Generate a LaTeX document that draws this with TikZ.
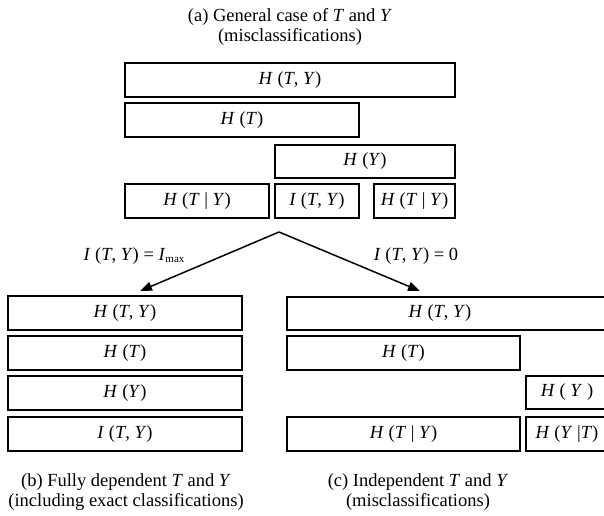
\documentclass[tikz,border=0pt]{standalone}
\usepackage{fontspec}
\setmainfont{Liberation Serif}
\usetikzlibrary{arrows.meta}
\newcommand\mi[1]{\textit{#1}}
\newcommand\bx[6]{\node[box, minimum width={#4-#2}, minimum height={#5-#3}] (#1) at ({(#2+#4)/2},{(#3+#5)/2}) {#6};}
\begin{document}
\begin{tikzpicture}[x=1pt,y=-1pt,
  box/.style={draw, line width=1.5pt, inner sep=0pt, font=\fontsize{18.5}{20}\selectfont},
  txt/.style={align=center, inner sep=0pt, font=\fontsize{18.5}{20}\selectfont},
  arr/.style={line width=1.5pt, -{Triangle[length=12pt,width=9pt]}}]
\useasboundingbox (0,0) rectangle (604,515);
\clip (0,0) rectangle (604,515);
% (a)
\node[txt] (ta) at (290,27) {(a) General case of \mi{T} and \mi{Y}\\(misclassifications)};
\bx{aTY}{125}{63}{455}{97}{\mi{H} (\mi{T}, \mi{Y})}
\bx{aT}{125}{103}{359}{137}{\mi{H} (\mi{T})}
\bx{aY}{275}{145}{455}{178}{\mi{H} (\mi{Y})}
\bx{aTgY}{125}{184}{269}{218}{\mi{H} (\mi{T} | \mi{Y})}
\bx{aI}{275}{184}{359}{218}{\mi{I} (\mi{T}, \mi{Y})}
\bx{aTgYb}{374}{184}{455}{218}{\mi{H} (\mi{T} | \mi{Y})}
% arrows
\coordinate (apex) at (279,232);
\coordinate (tipL) at (140,291);
\coordinate (tipR) at (420,291);
\draw[arr] (apex) -- (tipL);
\draw[arr] (apex) -- (tipR);
\node[txt] (lL) at (134,256) {\mi{I} (\mi{T}, \mi{Y}) = \mi{I}\raisebox{-0.25ex}{\fontsize{11}{11}\selectfont max}};
\node[txt] (lR) at (416,256) {\mi{I} (\mi{T}, \mi{Y}) = 0};
% (b)
\bx{bTY}{8}{296}{242}{330}{\mi{H} (\mi{T}, \mi{Y})}
\bx{bT}{8}{336}{242}{370}{\mi{H} (\mi{T})}
\bx{bY}{8}{376}{242}{410}{\mi{H} (\mi{Y})}
\bx{bI}{8}{417}{242}{451}{\mi{I} (\mi{T}, \mi{Y})}
\node[txt] (tb) at (126,492) {(b) Fully dependent \mi{T} and \mi{Y}\\(including exact classifications)};
% (c)
\bx{cTY}{287}{297}{608}{330}{\hspace*{-15pt}\mi{H} (\mi{T}, \mi{Y})}
\bx{cT}{287}{336}{520}{370}{\mi{H} (\mi{T})}
\bx{cY}{526}{376}{608}{409}{\mi{H} ( \mi{Y} )}
\bx{cTgY}{287}{417}{520}{451}{\mi{H} (\mi{T} | \mi{Y})}
\bx{cYgT}{526}{417}{608}{451}{\mi{H} (\mi{Y} |\mi{T})}
\node[txt] (tc) at (418,492) {(c) Independent \mi{T} and \mi{Y}\\(misclassifications)};
\end{tikzpicture}
\end{document}
